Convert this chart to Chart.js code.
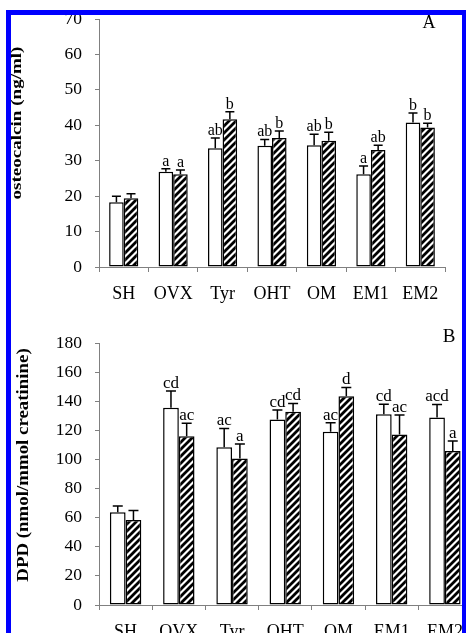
<!DOCTYPE html>
<html>
<head>
<meta charset="utf-8">
<script src="https://cdn.jsdelivr.net/npm/chart.js@4.4.0/dist/chart.umd.min.js"></script>
<style>
html, body { margin: 0; padding: 0; background: #fff; }
#wrap { position: relative; width: 466px; height: 633px; overflow: hidden; background: #fff; }
#topChart { position: absolute; left: 0; top: 0; }
#bottomChart { position: absolute; left: 0; top: 315px; }
#frame { position: absolute; left: 6px; top: 10px; width: 461px; height: 700px; border: 5px solid #0000ff; box-sizing: border-box; }
</style>
</head>
<body>
<div id="wrap">
  <canvas id="topChart" width="466" height="310"></canvas>
  <canvas id="bottomChart" width="500" height="340"></canvas>
  <div id="frame"></div>
</div>
<script>
// groups
var groups = ['SH', 'OVX', 'Tyr', 'OHT', 'OM', 'EM1', 'EM2'];

// panel A - osteocalcin (ng/ml)
var osteoOpen = [18.3, 26.9, 33.5, 34.2, 34.4, 26.2, 40.8];
var osteoOpenErr = [1.7, 0.8, 2.9, 1.8, 3.1, 2.3, 2.7];
var osteoHatched = [19.4, 26.2, 41.7, 36.4, 35.6, 33.0, 39.4];
var osteoHatchedErr = [1.3, 1.2, 2.1, 2.0, 2.4, 1.4, 1.2];
var osteoOpenLetters = ['', 'a', 'ab', 'ab', 'ab', 'a', 'b'];
var osteoHatchedLetters = ['', 'a', 'b', 'b', 'b', 'ab', 'b'];
var osteoTicks = [0, 10, 20, 30, 40, 50, 60, 70];

// panel B - DPD (nmol/mmol creatinine)
var dpdOpen = [63.7, 135.5, 108.3, 127.5, 119.0, 131.0, 128.9];
var dpdOpenErr = [4.3, 11.5, 13.0, 6.5, 6.2, 7.0, 8.9];
var dpdHatched = [58.4, 116.0, 100.7, 132.8, 143.5, 117.2, 105.8];
var dpdHatchedErr = [6.6, 8.8, 9.9, 5.7, 6.0, 13.3, 6.8];
var dpdOpenLetters = ['', 'cd', 'ac', 'cd', 'ac', 'cd', 'acd'];
var dpdHatchedLetters = ['', 'ac', 'a', 'cd', 'd', 'ac', 'a'];
var dpdTicks = [0, 20, 40, 60, 80, 100, 120, 140, 160, 180];

var SERIF = '"Liberation Serif", "DejaVu Serif", serif';
var AXIS_GREY = '#808080';

// diagonal black/white stripes for the second series
function makeHatch() {
    var size = 7;
    var c = document.createElement('canvas');
    c.width = size; c.height = size;
    var g = c.getContext('2d');
    g.fillStyle = '#fff';
    g.fillRect(0, 0, size, size);
    g.strokeStyle = '#000';
    g.lineWidth = 2.8;
    g.beginPath();
    g.moveTo(-1, size + 1); g.lineTo(size + 1, -1);
    g.moveTo(-1, 1); g.lineTo(1, -1);
    g.moveTo(size - 1, size + 1); g.lineTo(size + 1, size - 1);
    g.stroke();
    return g.createPattern(c, 'repeat');
}
var hatch = makeHatch();

// error bars, significance letters, axis title and panel letter
var decor = {
    id: 'decor',
    afterDatasetsDraw(chart, args, opts) {
        var ctx = chart.ctx, y = chart.scales.y;
        ctx.save();
        chart.data.datasets.forEach(function (ds, i) {
            var meta = chart.getDatasetMeta(i);
            meta.data.forEach(function (bar, j) {
                var top = y.getPixelForValue(ds.data[j] + ds.errors[j]);
                ctx.strokeStyle = '#000';
                ctx.lineWidth = 1.5;
                ctx.beginPath();
                ctx.moveTo(bar.x, bar.y);
                ctx.lineTo(bar.x, top);
                ctx.moveTo(bar.x - opts.cap / 2, top);
                ctx.lineTo(bar.x + opts.cap / 2, top);
                ctx.stroke();
                if (ds.letters[j]) {
                    ctx.fillStyle = '#000';
                    ctx.font = opts.letterFont;
                    ctx.textAlign = 'center';
                    ctx.textBaseline = 'alphabetic';
                    ctx.fillText(ds.letters[j], bar.x, top - 3);
                }
            });
        });
        ctx.restore();
    },
    afterDraw(chart, args, opts) {
        var ctx = chart.ctx;
        ctx.save();
        ctx.fillStyle = '#000';
        // y axis title
        ctx.translate(opts.titleX, opts.titleY);
        ctx.rotate(-Math.PI / 2);
        ctx.scale(opts.titleStretch, 1);
        ctx.font = opts.titleFont;
        ctx.textAlign = 'center';
        ctx.textBaseline = 'middle';
        ctx.fillText(opts.title, 0, 0);
        ctx.restore();
        ctx.save();
        ctx.fillStyle = '#000';
        ctx.font = opts.panelFont;
        ctx.textAlign = 'center';
        ctx.textBaseline = 'middle';
        ctx.fillText(opts.panel, opts.panelX, opts.panelY);
        ctx.restore();
    }
};

function makeChart(id, open, openErr, openLetters, hatched, hatchedErr, hatchedLetters, ticks, setup) {
    var ctx = document.getElementById(id).getContext('2d');
    return new Chart(ctx, {
        type: 'bar',
        data: {
            labels: groups,
            datasets: [{
                data: open,
                errors: openErr,
                letters: openLetters,
                backgroundColor: '#fff',
                borderColor: '#000',
                borderWidth: 1.5,
                borderSkipped: false
            }, {
                data: hatched,
                errors: hatchedErr,
                letters: hatchedLetters,
                backgroundColor: hatch,
                borderColor: '#000',
                borderWidth: 1.5,
                borderSkipped: false
            }]
        },
        options: {
            responsive: false,
            animation: false,
            events: [],
            categoryPercentage: 0.59,
            barPercentage: 1.0,
            layout: { padding: setup.padding },
            plugins: {
                legend: { display: false },
                tooltip: { enabled: false },
                decor: setup.decor
            },
            scales: {
                x: {
                    grid: { display: true, drawOnChartArea: false, offset: true, tickLength: 5, color: AXIS_GREY },
                    border: { color: AXIS_GREY, width: 1 },
                    ticks: { color: '#000', font: { family: SERIF, size: 18 }, padding: 11, maxRotation: 0 },
                    afterFit: function (s) { s.height = setup.xHeight; }
                },
                y: {
                    min: 0,
                    max: ticks[ticks.length - 1],
                    afterBuildTicks: function (s) { s.ticks = ticks.map(function (v) { return { value: v }; }); },
                    grid: { display: true, drawOnChartArea: false, tickLength: 4, color: AXIS_GREY },
                    border: { color: AXIS_GREY, width: 1 },
                    ticks: { color: '#000', font: { family: SERIF, size: 17.5 }, padding: 13 },
                    afterFit: function (s) {
                        s.width = 99;
                        // let the layout padding alone decide the plot top
                        s.paddingTop = 0;
                        s.paddingBottom = 0;
                    }
                }
            }
        },
        plugins: [decor]
    });
}

makeChart('topChart', osteoOpen, osteoOpenErr, osteoOpenLetters, osteoHatched, osteoHatchedErr, osteoHatchedLetters, osteoTicks, {
    padding: { left: 0, right: 21, top: 19, bottom: 0 },
    xHeight: 43,
    decor: {
        cap: 9,
        letterFont: '16px ' + SERIF,
        title: 'osteocalcin (ng/ml)',
        titleFont: 'bold 15px ' + SERIF,
        titleStretch: 1.27,
        titleX: 17,
        titleY: 123,
        panel: 'A',
        panelFont: '18px ' + SERIF,
        panelX: 429,
        panelY: 23
    }
});

makeChart('bottomChart', dpdOpen, dpdOpenErr, dpdOpenLetters, dpdHatched, dpdHatchedErr, dpdHatchedLetters, dpdTicks, {
    padding: { left: 0, right: 28.5, top: 28, bottom: 0 },
    xHeight: 50,
    decor: {
        cap: 10,
        letterFont: '17px ' + SERIF,
        title: 'DPD (nmol/mmol creatinine)',
        titleFont: 'bold 17px ' + SERIF,
        titleStretch: 1.11,
        titleX: 24,
        titleY: 150,
        panel: 'B',
        panelFont: '19px ' + SERIF,
        panelX: 449,
        panelY: 22
    }
});
</script>
</body>
</html>
